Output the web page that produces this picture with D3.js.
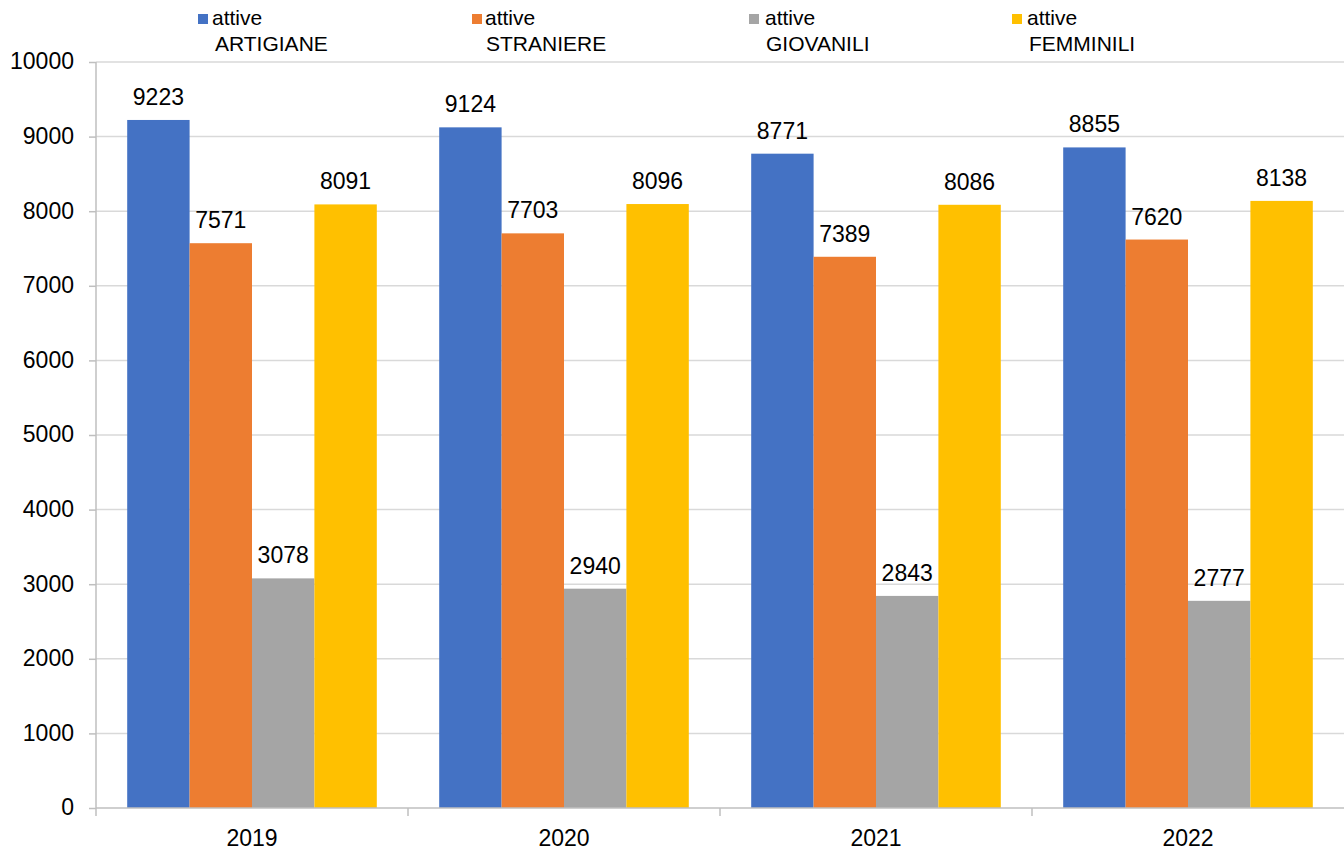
<!DOCTYPE html>
<html><head><meta charset="utf-8">
<script src="https://cdn.jsdelivr.net/npm/d3@7/dist/d3.min.js"></script>
<style>body{margin:0;background:#fff;} svg{display:block;font-family:"Liberation Sans",Arial,sans-serif;}</style>
</head><body><svg id="c" width="1344" height="851"></svg>
<script>
const years = ["2019","2020","2021","2022"];
const seriesNames = ["attive ARTIGIANE","attive STRANIERE","attive GIOVANILI","attive FEMMINILI"];
const legendLine1 = ["attive","attive","attive","attive"];
const legendLine2 = ["ARTIGIANE","STRANIERE","GIOVANILI","FEMMINILI"];
const artigiane = [9223,9124,8771,8855];
const straniere = [7571,7703,7389,7620];
const giovanili = [3078,2940,2843,2777];
const femminili = [8091,8096,8086,8138];
const yTicks = [0,1000,2000,3000,4000,5000,6000,7000,8000,9000,10000];
const colors = ["#4472C4","#ED7D31","#A5A5A5","#FFC000"];
const seriesVals = [artigiane, straniere, giovanili, femminili];

(function(){
const svg = d3.select("#c");
const mL = 96, mR = 1344, mT = 62, mB = 808;
const x = d3.scaleBand().domain(years).range([mL,mR]).paddingInner(0).paddingOuter(0);
const x1 = d3.scaleBand().domain(d3.range(4)).range([0,x.bandwidth()]).paddingOuter(0.5).paddingInner(0);
const y = d3.scaleLinear().domain([0,10000]).range([mB,mT]);

svg.append("g").selectAll("line").data(yTicks.filter(d=>d>0)).join("line")
  .attr("x1",mL).attr("x2",mR).attr("y1",d=>y(d)).attr("y2",d=>y(d))
  .attr("stroke","#d9d9d9").attr("stroke-width",1.5);

const ya = svg.append("g").attr("transform",`translate(${mL},0)`)
  .call(d3.axisLeft(y).tickValues(yTicks).tickSize(7).tickPadding(15).tickFormat(d=>d3.format("d")(d)));
ya.select(".domain").attr("stroke","#bfbfbf").attr("stroke-width",1.5).attr("d",`M0,${mT}V${mB}`);
ya.selectAll(".tick line").attr("stroke","#bfbfbf").attr("stroke-width",1.5);
ya.selectAll(".tick text").attr("font-size",23).attr("fill","#000").attr("dy","0.3em").attr("font-family","Liberation Sans, Arial, sans-serif");

const g = svg.append("g");
years.forEach((yr,i)=>{
  seriesVals.forEach((vals,s)=>{
    const bx = x(yr)+x1(s);
    g.append("rect").attr("x",bx).attr("width",x1.bandwidth()).attr("y",y(vals[i])).attr("height",mB-y(vals[i])).attr("fill",colors[s]);
    g.append("text").attr("x",bx+x1.bandwidth()/2).attr("y",y(vals[i])-15).attr("text-anchor","middle")
      .attr("font-size",23).attr("fill","#000").text(vals[i]);
  });
});

const xa = svg.append("g").attr("transform",`translate(0,${mB})`)
  .call(d3.axisBottom(x).tickSize(0).tickPadding(22));
xa.select(".domain").attr("stroke","#bfbfbf").attr("stroke-width",1.5).attr("d",`M${mL},0H${mR}`);
xa.selectAll(".tick text").attr("font-size",23).attr("fill","#000").attr("font-family","Liberation Sans, Arial, sans-serif");
xa.selectAll("line.sep").data(years.slice(1)).join("line").attr("class","sep")
  .attr("x1",d=>x(d)).attr("x2",d=>x(d)).attr("y1",0).attr("y2",8).attr("stroke","#bfbfbf").attr("stroke-width",1.5);
xa.append("line").attr("x1",mL).attr("x2",mL).attr("y1",0).attr("y2",8).attr("stroke","#bfbfbf").attr("stroke-width",1.5);

const legSq = [198,472,749,1012];
const legT1 = [212,485,765,1027];
const legT2 = [215,486,766,1029];
const lg = svg.append("g");
seriesNames.forEach((n,i)=>{
  lg.append("rect").attr("x",legSq[i]).attr("y",14).attr("width",10).attr("height",10).attr("fill",colors[i]);
  lg.append("text").attr("x",legT1[i]).attr("y",25).attr("font-size",21).attr("fill","#000").text(legendLine1[i]);
  lg.append("text").attr("x",legT2[i]).attr("y",51).attr("font-size",21).attr("fill","#000").text(legendLine2[i]);
});
})();
</script></body></html>
